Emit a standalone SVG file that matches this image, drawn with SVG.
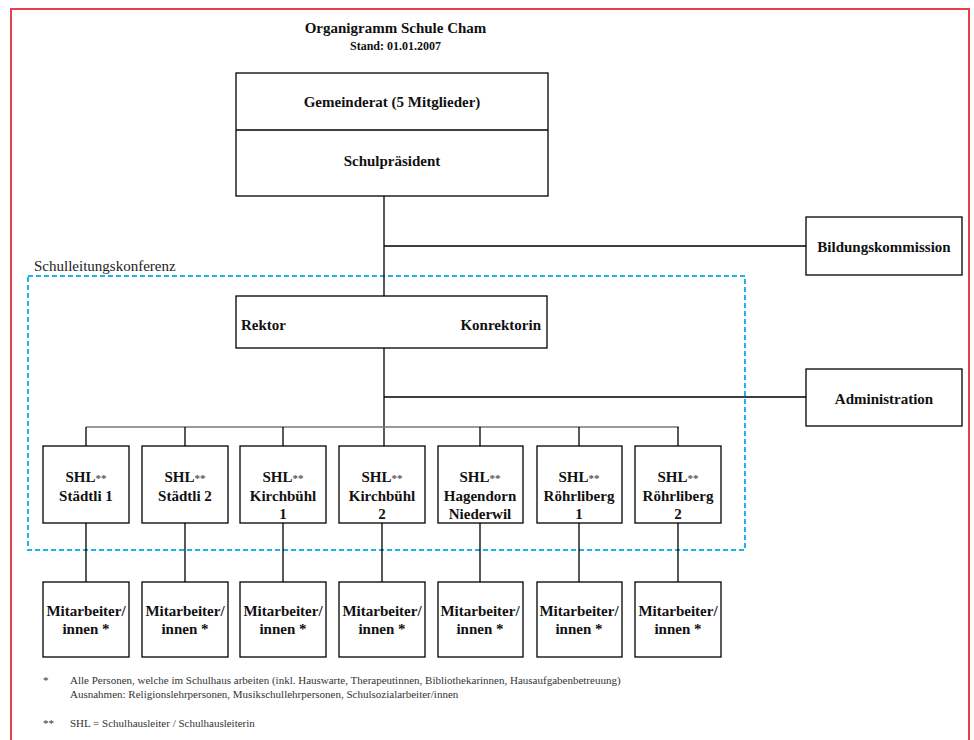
<svg xmlns="http://www.w3.org/2000/svg" width="974" height="740" viewBox="0 0 974 740">
<style>
.box{fill:#fff;stroke:#000;stroke-width:1.3}
.t{font-family:"Liberation Serif","Times New Roman",serif;font-weight:bold;font-size:15px;fill:#111;text-anchor:middle}
.ast{font-size:11px;fill:#555}
.ln{stroke:#000;stroke-width:1.3;fill:none}
.fn{font-family:"Liberation Serif","Times New Roman",serif;font-size:11px;fill:#333}
</style>
<rect width="974" height="740" fill="#fff"/>
<rect x="11" y="9" width="958" height="760" fill="none" stroke="#e0434c" stroke-width="2"/>
<text class="t" x="395.5" y="33">Organigramm Schule Cham</text>
<text class="t" x="395.5" y="50" style="font-size:12px">Stand: 01.01.2007</text>

<text x="34" y="271" style="font-family:'Liberation Serif','Times New Roman',serif;font-size:15px;fill:#222">Schulleitungskonferenz</text>
<rect x="28" y="276" width="717" height="274" fill="none" stroke="#1fb2ea" stroke-width="2" stroke-dasharray="5 3"/>

<g id="connectors">
<path class="ln" d="M384 196V296M384 246H806M384 348V446M384 397H806"/>
<path d="M86 427H679" stroke="#777" stroke-width="1.3" fill="none"/>
<path class="ln" d="M86 427V446M185 427V446M283 427V446M480 427V446M579 427V446M678 427V446"/>
<path class="ln" d="M86 523V582M185 523V582M283 523V582M382 523V582M480 523V582M579 523V582M678 523V582"/>
</g>

<g id="gemeinderat">
<rect class="box" x="236" y="73" width="312" height="123"/>
<line class="ln" x1="236" y1="130" x2="548" y2="130"/>
<text class="t" x="392" y="107">Gemeinderat (5 Mitglieder)</text>
<text class="t" x="392" y="166">Schulpräsident</text>
</g>
<g id="bildungskommission">
<rect class="box" x="806" y="217" width="156" height="58"/>
<text class="t" x="884" y="252">Bildungskommission</text>
</g>
<g id="rektor">
<rect class="box" x="236" y="296" width="311" height="52"/>
<text class="t" x="241" y="330" style="text-anchor:start">Rektor</text>
<text class="t" x="541" y="330" style="text-anchor:end">Konrektorin</text>
</g>
<g id="administration">
<rect class="box" x="806" y="369" width="156" height="57"/>
<text class="t" x="884" y="404">Administration</text>
</g>

<g id="shl1"><rect class="box" x="43" y="446" width="86" height="77"/>
<text class="t" x="86" y="482">SHL<tspan class="ast">**</tspan></text><text class="t" x="86" y="501">Städtli 1</text></g>
<g id="shl2"><rect class="box" x="142" y="446" width="86" height="77"/>
<text class="t" x="185" y="482">SHL<tspan class="ast">**</tspan></text><text class="t" x="185" y="501">Städtli 2</text></g>
<g id="shl3"><rect class="box" x="240" y="446" width="86" height="77"/>
<text class="t" x="283" y="482">SHL<tspan class="ast">**</tspan></text><text class="t" x="283" y="501">Kirchbühl</text><text class="t" x="283" y="519">1</text></g>
<g id="shl4"><rect class="box" x="339" y="446" width="86" height="77"/>
<text class="t" x="382" y="482">SHL<tspan class="ast">**</tspan></text><text class="t" x="382" y="501">Kirchbühl</text><text class="t" x="382" y="519">2</text></g>
<g id="shl5"><rect class="box" x="438" y="446" width="85" height="77"/>
<text class="t" x="480" y="482">SHL<tspan class="ast">**</tspan></text><text class="t" x="480" y="501">Hagendorn</text><text class="t" x="480" y="519">Niederwil</text></g>
<g id="shl6"><rect class="box" x="537" y="446" width="85" height="77"/>
<text class="t" x="579" y="482">SHL<tspan class="ast">**</tspan></text><text class="t" x="579" y="501">Röhrliberg</text><text class="t" x="579" y="519">1</text></g>
<g id="shl7"><rect class="box" x="635" y="446" width="86" height="77"/>
<text class="t" x="678" y="482">SHL<tspan class="ast">**</tspan></text><text class="t" x="678" y="501">Röhrliberg</text><text class="t" x="678" y="519">2</text></g>

<g id="ma1"><rect class="box" x="43" y="582" width="86" height="75"/><text class="t" x="86" y="616">Mitarbeiter/</text><text class="t" x="86" y="634">innen *</text></g>
<g id="ma2"><rect class="box" x="142" y="582" width="86" height="75"/><text class="t" x="185" y="616">Mitarbeiter/</text><text class="t" x="185" y="634">innen *</text></g>
<g id="ma3"><rect class="box" x="240" y="582" width="86" height="75"/><text class="t" x="283" y="616">Mitarbeiter/</text><text class="t" x="283" y="634">innen *</text></g>
<g id="ma4"><rect class="box" x="339" y="582" width="86" height="75"/><text class="t" x="382" y="616">Mitarbeiter/</text><text class="t" x="382" y="634">innen *</text></g>
<g id="ma5"><rect class="box" x="438" y="582" width="85" height="75"/><text class="t" x="480" y="616">Mitarbeiter/</text><text class="t" x="480" y="634">innen *</text></g>
<g id="ma6"><rect class="box" x="537" y="582" width="85" height="75"/><text class="t" x="579" y="616">Mitarbeiter/</text><text class="t" x="579" y="634">innen *</text></g>
<g id="ma7"><rect class="box" x="635" y="582" width="86" height="75"/><text class="t" x="678" y="616">Mitarbeiter/</text><text class="t" x="678" y="634">innen *</text></g>

<text class="fn" x="43" y="684">*</text>
<text class="fn" x="70" y="684">Alle Personen, welche im Schulhaus arbeiten (inkl. Hauswarte, Therapeutinnen, Bibliothekarinnen, Hausaufgabenbetreuung)</text>
<text class="fn" x="70" y="698">Ausnahmen: Religionslehrpersonen, Musikschullehrpersonen, Schulsozialarbeiter/innen</text>
<text class="fn" x="43" y="727">**</text>
<text class="fn" x="70" y="727">SHL = Schulhausleiter / Schulhausleiterin</text>
</svg>
